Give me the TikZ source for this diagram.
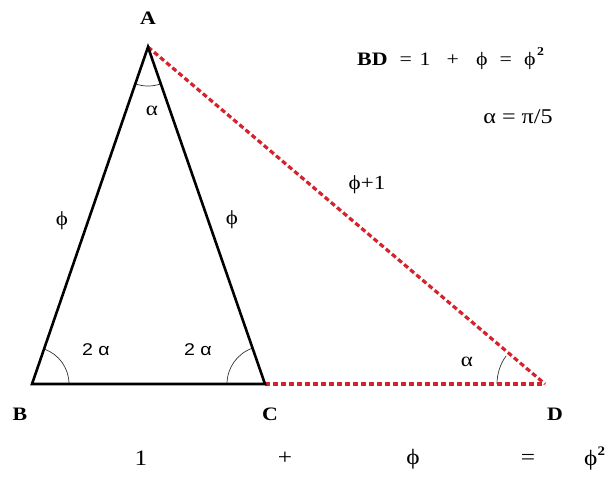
\documentclass[tikz,border=0pt]{standalone}
\usepackage{fontspec}
\setmainfont{Liberation Serif}
\newfontfamily\arialf{Liberation Sans}
\newcommand{\ph}{\char"03D5}
\newcommand{\sx}[1]{\scalebox{1.15}[1]{#1}}
\newcommand{\tok}[2]{\rlap{\hspace*{#1pt}\sx{#2}}}
\begin{document}
\begin{tikzpicture}[x=1pt,y=-1pt,
  side/.style={line width=2.6pt,black},
  reddash/.style={line width=3.2pt,color=redd,dash pattern=on 5pt off 3pt},
  anglearc/.style={line width=0.7pt,black!80},
  lbl/.style={font=\fontsize{20}{22}\selectfont,inner sep=0pt},
  blbl/.style={font=\fontsize{22}{24}\selectfont,inner sep=0pt},
  slbl/.style={font=\arialf\fontsize{17}{19}\selectfont,inner sep=0pt},
  vlbl/.style={font=\fontsize{19}{21}\selectfont\bfseries,inner sep=0pt}]
\definecolor{redd}{RGB}{214,34,44}
\useasboundingbox (0,0) rectangle (610,477);
\fill[white] (0,0) rectangle (610,477);
\coordinate (A) at (148,47);
\coordinate (B) at (32,384);
\coordinate (C) at (265,384);
\coordinate (D) at (545,384);
% angle arcs
\draw[anglearc] (A) ++(71:39) arc[start angle=71,end angle=109,radius=39];
\draw[anglearc] (B) ++(0:37) arc[start angle=0,end angle=-71,radius=37];
\draw[anglearc] (C) ++(180:38) arc[start angle=180,end angle=251,radius=38];
\draw[anglearc] (D) ++(180:48) arc[start angle=180,end angle=216,radius=48];
% sides
\draw[reddash] (A) -- (D);
\draw[reddash] (C) -- (D);
\draw[side,line join=miter] (A) -- (B) -- (C) -- cycle;
% labels
\node[vlbl] (lA) at (148,18) {\sx{A}};
\node[vlbl] (lB) at (20,414) {\sx{B}};
\node[vlbl] (lC) at (270,414) {\sx{C}};
\node[vlbl] (lD) at (555,414) {\sx{D}};
\node[lbl] (aA) at (152,111) {\sx{α}};
\node[lbl] (pL) at (62,221) {\sx{\ph}};
\node[lbl] (pR) at (232,220) {\sx{\ph}};
\node[lbl] (pD) at (367,185) {\sx{\ph+1}};
\node[slbl] (aB) at (96,350) {\sx{2 α}};
\node[slbl] (aC) at (198,350) {\sx{2 α}};
\node[lbl] (aD) at (467,362) {\sx{α}};
\node[font=\fontsize{19}{21}\selectfont,inner sep=0pt,anchor=base west] (eq) at (357,65)
  {\tok{0}{\bfseries BD}\tok{42.5}{=}\tok{62.5}{1}\tok{89.5}{+}\tok{119}{\ph}\tok{142.5}{=}\tok{167}{\ph}\tok{180}{\raisebox{10pt}{\fontsize{12}{13}\selectfont\bfseries 2}}\hspace*{190pt}};
\node[font=\fontsize{21}{23}\selectfont,inner sep=0pt] (al) at (518,117) {\sx{α = π/5}};
\node[blbl] (b1) at (141,458) {\sx{1}};
\node[blbl] (b2) at (285,458) {\sx{+}};
\node[blbl] (b3) at (413,459) {\sx{\ph}};
\node[blbl] (b4) at (528,459) {\sx{=}};
\node[blbl,anchor=west] (b5) at (584,459) {\sx{\ph\raisebox{10pt}{\fontsize{13}{14}\selectfont\bfseries 2}}};
\end{tikzpicture}
\end{document}
